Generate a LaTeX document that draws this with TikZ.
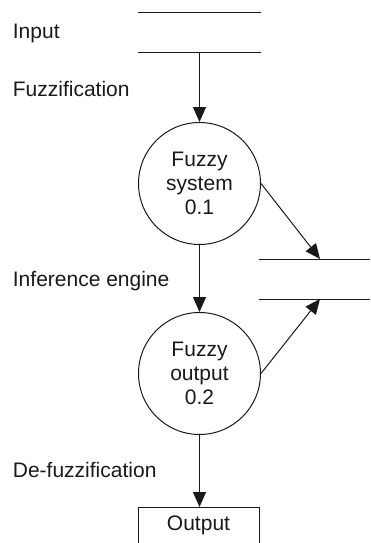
\documentclass[tikz,border=0pt]{standalone}
\usepackage{fontspec}
\setmainfont{Liberation Sans}
\usetikzlibrary{arrows.meta}
\definecolor{ink}{RGB}{25,25,25}
\tikzset{
  lbl/.style={anchor=base west, inner sep=0pt, text=ink, font=\fontsize{21}{24}\selectfont},
  proc/.style={circle, draw=ink, line width=1pt, minimum size=122pt, inner sep=0pt,
    align=center, text=ink, font=\fontsize{21}{24}\selectfont},
  storeline/.style={draw=ink, line width=1pt},
  flow/.style={draw=ink, line width=1pt, -{Triangle[length=15pt,width=13pt]}},
}
\begin{document}
\begin{tikzpicture}[x=1pt,y=-1pt]
\useasboundingbox (0,0) rectangle (370,543);

% side labels
\node[lbl] (lin)  at (12.7,38)  {Input};
\node[lbl] (lfz)  at (12.7,96)  {Fuzzification};
\node[lbl] (lie)  at (12.7,286) {Inference engine};
\node[lbl] (ldf)  at (12.7,477) {De-fuzzification};

% input data store
\coordinate (inTL) at (138,13);
\coordinate (inTR) at (261,13);
\coordinate (inBL) at (138,53);
\coordinate (inBR) at (261,53);
\coordinate (inOut) at (199.5,53);
\draw[storeline] (inTL) -- (inTR);
\draw[storeline] (inBL) -- (inBR);

% knowledge data store (right)
\coordinate (kbTL) at (259,259);
\coordinate (kbTR) at (370,259);
\coordinate (kbBL) at (259,299);
\coordinate (kbBR) at (370,299);
\coordinate (kbTop) at (320,259);
\coordinate (kbBot) at (320,299);
\draw[storeline] (kbTL) -- (kbTR);
\draw[storeline] (kbBL) -- (kbBR);

% processes
\node[proc] (sys) at (199.5,183.5) {Fuzzy\\system\\0.1};
\node[proc] (fout) at (199.5,373.5) {Fuzzy\\output\\0.2};

% output terminator (open at the bottom edge)
\coordinate (outTop) at (199.5,507);
\draw[storeline] (138,545) |- (259,507) -- (259,545);
\node[lbl, anchor=base] (outtxt) at (198.5,530) {Output};

% flows
\draw[flow] (inOut) -- (sys.north);
\draw[flow] (sys.south) -- (fout.north);
\draw[flow] (fout.south) -- (outTop);
\draw[flow] (sys.east) -- (kbTop);
\draw[flow] (fout.east) -- (kbBot);
\end{tikzpicture}
\end{document}
